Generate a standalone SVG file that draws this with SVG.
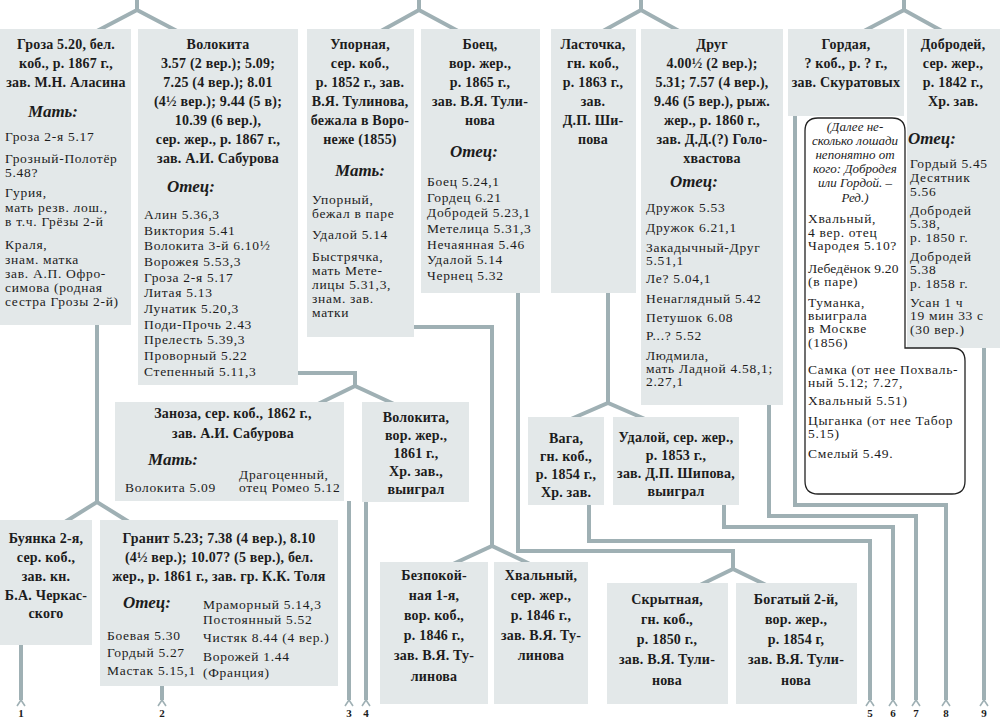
<svg xmlns="http://www.w3.org/2000/svg" width="1000" height="718" viewBox="0 0 1000 718">
<style>
.bx{fill:#e3e8e9}
.c{fill:none;stroke:#9fb0b4;stroke-width:4}
.h{font-family:"Liberation Serif",serif;font-weight:bold;font-size:14px;text-anchor:middle;fill:#1c1c1c;letter-spacing:0.2px}
.t{font-family:"Liberation Serif",serif;font-size:13.5px;fill:#1c1c1c;letter-spacing:0.7px}
.m{font-family:"Liberation Serif",serif;font-weight:bold;font-style:italic;font-size:17px;fill:#1c1c1c}
.n{font-family:"Liberation Serif",serif;font-style:italic;font-size:13px;text-anchor:middle;fill:#1c1c1c}
.num{font-family:"Liberation Serif",serif;font-weight:bold;font-size:11px;text-anchor:middle;fill:#1c1c1c}
</style>
<defs>
<marker id="tail" markerUnits="userSpaceOnUse" markerWidth="12" markerHeight="12" viewBox="-2 -6 10 12" refX="0" refY="0" orient="auto" overflow="visible">
<path d="M6,-4 L0,0 L6,4" fill="none" stroke="#9fb0b4" stroke-width="1.6"/>
</marker>
</defs>
<rect width="1000" height="718" fill="#fff"/>
<g id="connectors">
<path class="c" d="M137,0 V10 M97,31 L137,10 L177,31"/>
<path class="c" d="M419,0 V10 M381,31 L419,10 L458,31"/>
<path class="c" d="M641,0 V10 M603,31 L641,10 L679,31"/>
<path class="c" d="M904,0 V10 M864,31 L904,10 L942,31"/>
<path class="c" d="M97,325 V502 M65,522 L97,502 L129,522"/>
<path class="c" d="M298,373 H355 V386 M318,404 L355,386 L394,404"/>
<path class="c" d="M414,327 H492 V546 M453,564 L492,546 L530,564"/>
<path class="c" d="M518,293 V551 H733 V569 M698,586 L733,569 L768,586"/>
<path class="c" d="M608,293 V403 M571,419 L608,403 L645,419"/>
<path class="c" d="M589,505 V541 H870 V700" marker-end="url(#tail)"/>
<path class="c" d="M724,505 V527 H893 V700" marker-end="url(#tail)"/>
<path class="c" d="M769,405 V516 H916 V700" marker-end="url(#tail)"/>
<path class="c" d="M795,116 V505 H946 V700" marker-end="url(#tail)"/>
<path class="c" d="M984,348 V700" marker-end="url(#tail)"/>
<path class="c" d="M21,645 V700" marker-end="url(#tail)"/>
<path class="c" d="M162,686 V700" marker-end="url(#tail)"/>
<path class="c" d="M349,501 V700" marker-end="url(#tail)"/>
<path class="c" d="M366,502 V700" marker-end="url(#tail)"/>
</g>
<g id="labels">
<text class="num" x="21" y="717">1</text>
<text class="num" x="162" y="717">2</text>
<text class="num" x="349" y="717">3</text>
<text class="num" x="366" y="717">4</text>
<text class="num" x="870" y="717">5</text>
<text class="num" x="893" y="717">6</text>
<text class="num" x="916" y="717">7</text>
<text class="num" x="946" y="717">8</text>
<text class="num" x="984" y="717">9</text>
</g>
<g id="n-groza">
<rect class="bx" x="0" y="29" width="131" height="296"/>
<text class="h" x="66" y="49">Гроза 5.20, бел.</text>
<text class="h" x="66" y="68">коб., р. 1867 г.,</text>
<text class="h" x="66" y="87">зав. М.Н. Аласина</text>
<text class="m" x="28" y="117">Мать:</text>
<text class="t" x="5" y="141">Гроза 2-я 5.17</text>
<text class="t" x="5" y="163">Грозный-Полотёр</text>
<text class="t" x="5" y="177">5.48?</text>
<text class="t" x="5" y="197">Гурия,</text>
<text class="t" x="5" y="212">мать резв. лош.,</text>
<text class="t" x="5" y="226">в т.ч. Грёзы 2-й</text>
<text class="t" x="5" y="249">Краля,</text>
<text class="t" x="5" y="264">знам. матка</text>
<text class="t" x="5" y="278">зав. А.П. Офро-</text>
<text class="t" x="5" y="292">симова (родная</text>
<text class="t" x="5" y="306">сестра Грозы 2-й)</text>
</g>
<g id="n-volokita">
<rect class="bx" x="138" y="29" width="160" height="356"/>
<text class="h" x="218" y="49">Волокита</text>
<text class="h" x="218" y="68">3.57 (2 вер.); 5.09;</text>
<text class="h" x="218" y="87">7.25 (4 вер.); 8.01</text>
<text class="h" x="218" y="106">(4½ вер.); 9.44 (5 в);</text>
<text class="h" x="218" y="125">10.39 (6 вер.),</text>
<text class="h" x="218" y="144">сер. жер., р. 1867 г.,</text>
<text class="h" x="218" y="163">зав. А.И. Сабурова</text>
<text class="m" x="167" y="192">Отец:</text>
<text class="t" x="144" y="219">Алин 5.36,3</text>
<text class="t" x="144" y="235">Виктория 5.41</text>
<text class="t" x="144" y="250">Волокита 3-й 6.10½</text>
<text class="t" x="144" y="266">Ворожея 5.53,3</text>
<text class="t" x="144" y="282">Гроза 2-я 5.17</text>
<text class="t" x="144" y="297">Литая 5.13</text>
<text class="t" x="144" y="313">Лунатик 5.20,3</text>
<text class="t" x="144" y="329">Поди-Прочь 2.43</text>
<text class="t" x="144" y="344">Прелесть 5.39,3</text>
<text class="t" x="144" y="360">Проворный 5.22</text>
<text class="t" x="144" y="376">Степенный 5.11,3</text>
</g>
<g id="n-upornaya">
<rect class="bx" x="307" y="29" width="107" height="308"/>
<text class="h" x="360" y="49">Упорная,</text>
<text class="h" x="360" y="68">сер. коб.,</text>
<text class="h" x="360" y="87">р. 1852 г., зав.</text>
<text class="h" x="360" y="106">В.Я. Тулинова,</text>
<text class="h" x="360" y="125">бежала в Воро-</text>
<text class="h" x="360" y="144">неже (1855)</text>
<text class="m" x="335" y="176">Мать:</text>
<text class="t" x="312" y="204">Упорный,</text>
<text class="t" x="312" y="218">бежал в паре</text>
<text class="t" x="312" y="239">Удалой 5.14</text>
<text class="t" x="312" y="261">Быстрячка,</text>
<text class="t" x="312" y="275">мать Мете-</text>
<text class="t" x="312" y="289">лицы 5.31,3,</text>
<text class="t" x="312" y="303">знам. зав.</text>
<text class="t" x="312" y="317">матки</text>
</g>
<g id="n-boets">
<rect class="bx" x="421" y="29" width="119" height="264"/>
<text class="h" x="480" y="49">Боец,</text>
<text class="h" x="480" y="68">вор. жер.,</text>
<text class="h" x="480" y="87">р. 1865 г.,</text>
<text class="h" x="480" y="106">зав. В.Я. Тули-</text>
<text class="h" x="480" y="125">нова</text>
<text class="m" x="450" y="157">Отец:</text>
<text class="t" x="427" y="186">Боец 5.24,1</text>
<text class="t" x="427" y="202">Гордец 6.21</text>
<text class="t" x="427" y="217">Добродей 5.23,1</text>
<text class="t" x="427" y="233">Метелица 5.31,3</text>
<text class="t" x="427" y="249">Нечаянная 5.46</text>
<text class="t" x="427" y="264">Удалой 5.14</text>
<text class="t" x="427" y="280">Чернец 5.32</text>
</g>
<g id="n-lastochka">
<rect class="bx" x="551" y="29" width="85" height="264"/>
<text class="h" x="593" y="49">Ласточка,</text>
<text class="h" x="593" y="68">гн. коб.,</text>
<text class="h" x="593" y="87">р. 1863 г.,</text>
<text class="h" x="593" y="106">зав.</text>
<text class="h" x="593" y="125">Д.П. Ши-</text>
<text class="h" x="593" y="144">пова</text>
</g>
<g id="n-drug">
<rect class="bx" x="641" y="29" width="142" height="376"/>
<text class="h" x="712" y="49">Друг</text>
<text class="h" x="712" y="68">4.00½ (2 вер.);</text>
<text class="h" x="712" y="87">5.31; 7.57 (4 вер.),</text>
<text class="h" x="712" y="106">9.46 (5 вер.), рыж.</text>
<text class="h" x="712" y="125">жер., р. 1860 г.,</text>
<text class="h" x="712" y="144">зав. Д.Д.(?) Голо-</text>
<text class="h" x="712" y="163">хвастова</text>
<text class="m" x="670" y="187">Отец:</text>
<text class="t" x="646" y="212">Дружок 5.53</text>
<text class="t" x="646" y="232">Дружок 6.21,1</text>
<text class="t" x="646" y="252">Закадычный-Друг</text>
<text class="t" x="646" y="265">5.51,1</text>
<text class="t" x="646" y="283">Ле? 5.04,1</text>
<text class="t" x="646" y="303">Ненаглядный 5.42</text>
<text class="t" x="646" y="322">Петушок 6.08</text>
<text class="t" x="646" y="340">Р...? 5.52</text>
<text class="t" x="646" y="360">Людмила,</text>
<text class="t" x="646" y="373">мать Ладной 4.58,1;</text>
<text class="t" x="646" y="386">2.27,1</text>
</g>
<g id="n-gordaya">
<rect class="bx" x="788" y="29" width="116" height="87"/>
<text class="h" x="846" y="49">Гордая,</text>
<text class="h" x="846" y="68">? коб., р. ? г.,</text>
<text class="h" x="846" y="87">зав. Скуратовых</text>
</g>
<g id="n-dobrodey">
<rect class="bx" x="907" y="29" width="93" height="319"/>
<text class="h" x="953" y="49">Добродей,</text>
<text class="h" x="953" y="68">сер. жер.,</text>
<text class="h" x="953" y="87">р. 1842 г.,</text>
<text class="h" x="953" y="106">Хр. зав.</text>
<text class="m" x="908" y="144">Отец:</text>
<text class="t" x="910" y="168">Гордый 5.45</text>
<text class="t" x="910" y="182">Десятник</text>
<text class="t" x="910" y="196">5.56</text>
<text class="t" x="910" y="215">Добродей</text>
<text class="t" x="910" y="228">5.38,</text>
<text class="t" x="910" y="242">р. 1850 г.</text>
<text class="t" x="910" y="261">Добродей</text>
<text class="t" x="910" y="274">5.38</text>
<text class="t" x="910" y="288">р. 1858 г.</text>
<text class="t" x="910" y="307">Усан 1 ч</text>
<text class="t" x="910" y="320">19 мин 33 с</text>
<text class="t" x="910" y="334">(30 вер.)</text>
</g>
<g id="note">
<path d="M818,118 H892 Q905,118 905,131 V348 H952 Q965,348 965,361 V481 Q965,494 952,494 H818 Q805,494 805,481 V131 Q805,118 818,118 Z" fill="#fff" stroke="#222" stroke-width="1.3"/>
<text class="n" x="855" y="131">(Далее не-</text>
<text class="n" x="855" y="145">сколько лошади</text>
<text class="n" x="855" y="159">непонятно от</text>
<text class="n" x="855" y="173">кого: Добродея</text>
<text class="n" x="855" y="187">или Гордой. –</text>
<text class="n" x="855" y="202">Ред.)</text>
<text class="t" x="808" y="223">Хвальный,</text>
<text class="t" x="808" y="237">4 вер. отец</text>
<text class="t" x="808" y="250">Чародея 5.10?</text>
<text class="t" x="808" y="273" style="letter-spacing:0.2px">Лебедёнок 9.20</text>
<text class="t" x="808" y="286">(в паре)</text>
<text class="t" x="808" y="307">Туманка,</text>
<text class="t" x="808" y="320">выиграла</text>
<text class="t" x="808" y="333">в Москве</text>
<text class="t" x="808" y="347">(1856)</text>
<text class="t" x="808" y="374">Самка (от нее Похваль-</text>
<text class="t" x="808" y="387">ный 5.12; 7.27,</text>
<text class="t" x="808" y="405">Хвальный 5.51)</text>
<text class="t" x="808" y="425">Цыганка (от нее Табор</text>
<text class="t" x="808" y="438">5.15)</text>
<text class="t" x="808" y="458">Смелый 5.49.</text>
</g>
<g id="n-zanoza">
<rect class="bx" x="115" y="402" width="229" height="99"/>
<text class="h" x="233" y="418">Заноза, сер. коб., 1862 г.,</text>
<text class="h" x="233" y="438">зав. А.И. Сабурова</text>
<text class="m" x="148" y="465">Мать:</text>
<text class="t" x="125" y="492">Волокита 5.09</text>
<text class="t" x="239" y="479">Драгоценный,</text>
<text class="t" x="239" y="492">отец Ромео 5.12</text>
</g>
<g id="n-volokita2">
<rect class="bx" x="362" y="402" width="107" height="100"/>
<text class="h" x="416" y="422">Волокита,</text>
<text class="h" x="416" y="440">вор. жер.,</text>
<text class="h" x="416" y="458">1861 г.,</text>
<text class="h" x="416" y="476">Хр. зав.,</text>
<text class="h" x="416" y="494">выиграл</text>
</g>
<g id="n-vaga">
<rect class="bx" x="528" y="417" width="76" height="88"/>
<text class="h" x="566" y="443">Вага,</text>
<text class="h" x="566" y="461">гн. коб.,</text>
<text class="h" x="566" y="479">р. 1854 г.,</text>
<text class="h" x="566" y="497">Хр. зав.</text>
</g>
<g id="n-udaloy">
<rect class="bx" x="613" y="417" width="126" height="88"/>
<text class="h" x="676" y="442">Удалой, сер. жер.,</text>
<text class="h" x="676" y="460">р. 1853 г.,</text>
<text class="h" x="676" y="478">зав. Д.П. Шипова,</text>
<text class="h" x="676" y="496">выиграл</text>
</g>
<g id="n-buyanka">
<rect class="bx" x="0" y="520" width="92" height="125"/>
<text class="h" x="46" y="543">Буянка 2-я,</text>
<text class="h" x="46" y="562">сер. коб.,</text>
<text class="h" x="46" y="581">зав. кн.</text>
<text class="h" x="46" y="600">Б.А. Черкас-</text>
<text class="h" x="46" y="618">ского</text>
</g>
<g id="n-granit">
<rect class="bx" x="100" y="520" width="238" height="166"/>
<text class="h" x="219" y="543">Гранит 5.23; 7.38 (4 вер.), 8.10</text>
<text class="h" x="219" y="562">(4½ вер.); 10.07? (5 вер.), бел.</text>
<text class="h" x="219" y="581">жер., р. 1861 г., зав. гр. К.К. Толя</text>
<text class="m" x="123" y="608">Отец:</text>
<text class="t" x="107" y="640">Боевая 5.30</text>
<text class="t" x="107" y="657">Гордый 5.27</text>
<text class="t" x="107" y="675">Мастак 5.15,1</text>
<text class="t" x="203" y="609">Мраморный 5.14,3</text>
<text class="t" x="203" y="624">Постоянный 5.52</text>
<text class="t" x="203" y="642">Чистяк 8.44 (4 вер.)</text>
<text class="t" x="203" y="661">Ворожей 1.44</text>
<text class="t" x="203" y="677">(Франция)</text>
</g>
<g id="n-bezpokoynaya">
<rect class="bx" x="380" y="562" width="108" height="142"/>
<text class="h" x="434" y="580">Безпокой-</text>
<text class="h" x="434" y="600">ная 1-я,</text>
<text class="h" x="434" y="620">вор. коб.,</text>
<text class="h" x="434" y="640">р. 1846 г.,</text>
<text class="h" x="434" y="660">зав. В.Я. Ту-</text>
<text class="h" x="434" y="681">линова</text>
</g>
<g id="n-khvalny">
<rect class="bx" x="494" y="562" width="94" height="142"/>
<text class="h" x="541" y="580">Хвальный,</text>
<text class="h" x="541" y="600">сер. жер.,</text>
<text class="h" x="541" y="620">р. 1846 г.,</text>
<text class="h" x="541" y="640">зав. В.Я. Ту-</text>
<text class="h" x="541" y="660">линова</text>
</g>
<g id="n-skrytnaya">
<rect class="bx" x="607" y="583" width="121" height="121"/>
<text class="h" x="667" y="604">Скрытная,</text>
<text class="h" x="667" y="624">гн. коб.,</text>
<text class="h" x="667" y="644">р. 1850 г.,</text>
<text class="h" x="667" y="664">зав. В.Я. Тули-</text>
<text class="h" x="667" y="685">нова</text>
</g>
<g id="n-bogaty">
<rect class="bx" x="736" y="583" width="121" height="121"/>
<text class="h" x="796" y="604">Богатый 2-й,</text>
<text class="h" x="796" y="624">вор. жер.,</text>
<text class="h" x="796" y="644">р. 1854 г,</text>
<text class="h" x="796" y="664">зав. В.Я. Тули-</text>
<text class="h" x="796" y="685">нова</text>
</g>
</svg>
